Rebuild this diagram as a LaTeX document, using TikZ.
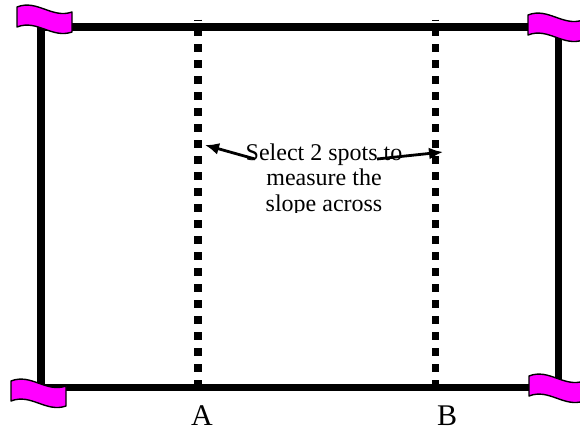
\documentclass[tikz,border=0pt]{standalone}
\usepackage{fontspec}
\setmainfont{Liberation Serif}
\usetikzlibrary{arrows.meta}
\definecolor{flagpink}{RGB}{255,0,255}
\begin{document}
\begin{tikzpicture}[x=1pt,y=-1pt,
  frame/.style={line width=7.5pt, line join=miter},
  stakeline/.style={line width=7.5pt, dash pattern=on 8pt off 8pt, dash phase=7.5pt},
  pointer/.style={line width=2.8pt, -{Latex[length=14pt,width=12pt]}},
  flagbody/.style={fill=flagpink, draw=black, line width=1.4pt, line join=round},
  wavyflag/.pic={
    \path[flagbody] (0,0) .. controls (20,-8) and (35,12) .. (55,5)
      -- (55,25) .. controls (35,32) and (20,12) .. (0,20) -- cycle;
  },
  note/.style={font=\fontsize{24}{25.7}\selectfont, align=center, inner sep=0pt},
  letter/.style={font=\fontsize{30}{30}\selectfont, inner sep=0pt, anchor=base}
]
\useasboundingbox (0,0) rectangle (580,432);

% plot boundary
\draw[frame] (41,27) rectangle (558.5,387.5);

% the two transect lines
\coordinate (atop) at (198,19.5);
\coordinate (abot) at (198,388);
\coordinate (btop) at (435.5,19.5);
\coordinate (bbot) at (435.5,388);
\draw[stakeline] (atop) -- (abot);
\draw[stakeline] (btop) -- (bbot);

% corner flags
\pic at (17,7) {wavyflag};
\pic at (528,15) {wavyflag};
\pic at (11,381) {wavyflag};
\pic at (529,376) {wavyflag};

% instruction text, cut off at the bottom of its box
\begin{scope}
  \clip (150,120) rectangle (500,212.5);
  \node[note, anchor=base] (note) at (324,211.4)
    {Select 2 spots to\\measure the\\slope across};
\end{scope}

% arrows pointing to the two lines
\coordinate (ltail) at (255,159);
\coordinate (lhead) at (205,145);
\coordinate (rtail) at (377,159);
\coordinate (rhead) at (443,152);
\draw[pointer] (ltail) -- (lhead);
\draw[pointer] (rtail) -- (rhead);

% line labels
\node[letter] (A) at (202,425.5) {A};
\node[letter] (B) at (447,425.5) {B};
\end{tikzpicture}
\end{document}
